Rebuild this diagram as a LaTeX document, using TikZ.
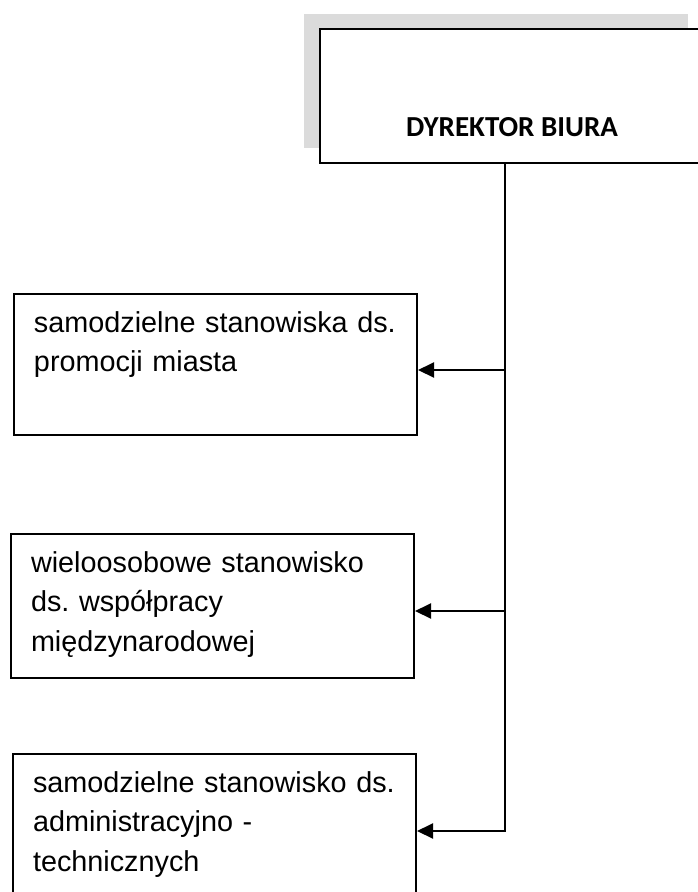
\documentclass[tikz,border=0pt]{standalone}
\usepackage{fontspec}
\setmainfont{Liberation Sans}
\newfontfamily\headfont{Carlito}
\usetikzlibrary{arrows.meta,positioning,shadows}
\frenchspacing

\begin{document}
\begin{tikzpicture}[
    x=1pt, y=-1pt,
    head/.style={rectangle, draw, fill=white, line width=2pt, anchor=north west,
        minimum width=384pt, inner sep=0pt, text height=107pt, text depth=27pt,
        font=\headfont\bfseries\fontsize{29}{34}\selectfont,
        drop shadow={shadow xshift=-16pt, shadow yshift=15pt, fill=gray!28, opacity=1}},
    unit/.style={rectangle, draw, line width=2pt, anchor=north west,
        minimum width=403pt, text width=363pt, inner xsep=20pt, inner ysep=0pt,
        align=left, text height=38pt, text depth=103pt,
        font=\fontsize{28.8}{39.5}\selectfont},
    conn/.style={line width=2pt},
    arrow/.style={conn, -{Triangle[length=16pt, width=15pt]}}
]
    \useasboundingbox (0,0) rectangle (698,892);

    % Head of the office
    \node[head] (dyrektor) at (319,28) {DYREKTOR BIURA};

    % Positions below
    \node[unit] (promocja) at (13,293) {samodzielne stanowiska ds.\\promocji miasta};
    \node[unit, text depth=106pt] (wspolpraca) at (10,533) {wieloosobowe stanowisko\\ds. współpracy\\międzynarodowej};
    \node[unit, text depth=140pt] (administracja) at (12,753) {samodzielne stanowisko ds.\\administracyjno -\\technicznych};

    % Trunk and branches
    \coordinate (trunk) at (505,0);
    \coordinate (promocja-in) at ([yshift=-77pt]promocja.north east);
    \coordinate (wspolpraca-in) at ([yshift=-78pt]wspolpraca.north east);
    \coordinate (administracja-in) at ([yshift=-78pt]administracja.north east);

    \draw[arrow] (dyrektor.south -| trunk) |- (administracja-in);
    \draw[arrow] (promocja-in -| trunk) -- (promocja-in);
    \draw[arrow] (wspolpraca-in -| trunk) -- (wspolpraca-in);

\end{tikzpicture}
\end{document}
